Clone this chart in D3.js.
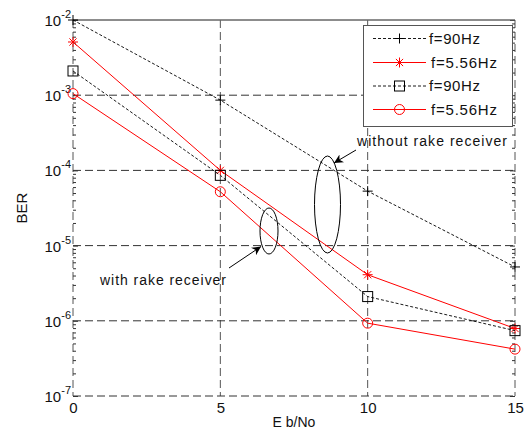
<!DOCTYPE html>
<html><head><meta charset="utf-8">
<script src="https://cdn.jsdelivr.net/npm/d3@7"></script>
<style>body{margin:0;background:#fff}svg{display:block}text{font-family:"Liberation Sans",Arial,sans-serif}</style>
</head><body>
<svg id="c" width="527" height="441"></svg>
<script>
const ebno = [0, 5, 10, 15];
const woRake90 = [1e-2, 8.6e-4, 5.3e-5, 5.2e-6];
const woRake556 = [5.1e-3, 1.0e-4, 4.1e-6, 7.9e-7];
const wRake90 = [2.1e-3, 8.6e-5, 2.1e-6, 7.4e-7];
const wRake556 = [1.05e-3, 5.2e-5, 9.3e-7, 4.2e-7];
const xTicks = [0, 5, 10, 15];
const yExps = [-7, -6, -5, -4, -3, -2];
const legendLabels = ["f=90Hz", "f=5.56Hz", "f=90Hz", "f=5.56Hz"];

const svg = d3.select("#c");
const L = 73, R = 515, T = 20, B = 396;
const x = d3.scaleLinear().domain([0, 15]).range([L, R]);
const y = d3.scaleLog().domain([1e-7, 1e-2]).range([B, T]);

// grid
const grid = svg.append("g");
xTicks.forEach(v => grid.append("line").attr("x1", x(v)).attr("x2", x(v)).attr("y1", T).attr("y2", B)
  .attr("stroke", "#555").attr("stroke-dasharray", "8,4"));
yExps.forEach(e => grid.append("line").attr("x1", L).attr("x2", R).attr("y1", y(Math.pow(10, e))).attr("y2", y(Math.pow(10, e)))
  .attr("stroke", e === -2 ? "#666" : "#333").attr("stroke-dasharray", e === -2 ? null : "8,4"));

// minor ticks
const minor = [];
for (let e = -7; e < -2; e++) for (let m = 2; m <= 9; m++) minor.push(m * Math.pow(10, e));
[[L, 1], [R, -1]].forEach(([px, dir]) => {
  const g = svg.append("g").attr("transform", `translate(${px},0)`);
  const ax = (dir === 1 ? d3.axisLeft(y) : d3.axisRight(y)).tickValues(minor).tickSize(-3).tickFormat("");
  g.call(ax);
  g.select(".domain").remove();
  g.selectAll("line").attr("stroke", "#333");
  const g2 = svg.append("g").attr("transform", `translate(${px},0)`);
  g2.call((dir === 1 ? d3.axisLeft(y) : d3.axisRight(y)).tickValues(yExps.map(e => Math.pow(10, e))).tickSize(-5).tickFormat(""));
  g2.select(".domain").remove();
  g2.selectAll("line").attr("stroke", "#333");
});

// y axis labels
const yAx = svg.append("g").attr("transform", `translate(${L},0)`)
  .call(d3.axisLeft(y).tickValues(yExps.map(e => Math.pow(10, e))).tickSize(0).tickPadding(2).tickFormat(""));
yAx.select(".domain").remove();
yAx.selectAll(".tick text").each(function (d) {
  const t = d3.select(this).attr("x", -2).attr("font-size", 15).attr("fill", "#111").attr("dy", "0.36em").attr("text-anchor", "end");
  t.append("tspan").text("10");
  t.append("tspan").attr("dy", -8).attr("font-size", 11).text(String(Math.round(Math.log10(d))));
});

// x axis labels
const xAx = svg.append("g").attr("transform", `translate(0,${B})`)
  .call(d3.axisBottom(x).tickValues(xTicks).tickSize(0).tickPadding(6).tickFormat(d3.format("d")));
xAx.select(".domain").remove();
xAx.selectAll(".tick text").attr("font-size", 15).attr("fill", "#111").attr("dy", "0.71em");

// top frame
svg.append("line").attr("x1", L).attr("x2", R).attr("y1", T).attr("y2", T).attr("stroke", "#666");

// axis titles
svg.append("text").attr("x", 294).attr("y", 427).attr("text-anchor", "middle").attr("font-size", 14).attr("fill", "#111").text("E b/No");
svg.append("text").attr("transform", "translate(27,208) rotate(-90)").attr("text-anchor", "middle").attr("font-size", 15).attr("fill", "#111").text("BER");

// series
const series = [
  {vals: woRake90, color: "#000", dash: "3,2", marker: "plus"},
  {vals: woRake556, color: "#f00", dash: null, marker: "star"},
  {vals: wRake90, color: "#000", dash: "3,2", marker: "square"},
  {vals: wRake556, color: "#f00", dash: null, marker: "circle"}
];
const line = d3.line().x(d => x(d[0])).y(d => y(d[1]));
function drawMarker(g, type, cx, cy, color) {
  const s = 5;
  if (type === "plus") {
    g.append("path").attr("d", `M${cx - s},${cy}H${cx + s}M${cx},${cy - s}V${cy + s}`).attr("stroke", color).attr("fill", "none");
  } else if (type === "star") {
    const d = 3.6;
    g.append("path").attr("d", `M${cx - s},${cy}H${cx + s}M${cx},${cy - s}V${cy + s}M${cx - d},${cy - d}L${cx + d},${cy + d}M${cx - d},${cy + d}L${cx + d},${cy - d}`)
      .attr("stroke", color).attr("fill", "none");
  } else if (type === "square") {
    g.append("rect").attr("x", cx - s).attr("y", cy - s).attr("width", 2 * s).attr("height", 2 * s).attr("stroke", color).attr("fill", "none");
  } else {
    g.append("circle").attr("cx", cx).attr("cy", cy).attr("r", s).attr("stroke", color).attr("fill", "none");
  }
}
series.forEach(s => {
  const pts = ebno.map((v, i) => [v, s.vals[i]]);
  svg.append("path").datum(pts).attr("d", line).attr("fill", "none").attr("stroke", s.color)
    .attr("stroke-width", s.dash ? 0.9 : 1).attr("stroke-dasharray", s.dash);
  const g = svg.append("g");
  pts.forEach(p => drawMarker(g, s.marker, x(p[0]), y(p[1]), s.color));
});

// legend
const lg = svg.append("g");
lg.append("rect").attr("x", 363.5).attr("y", 25.5).attr("width", 149).attr("height", 101).attr("fill", "#fff").attr("stroke", "#555");
const ly = [38.5, 62.5, 86, 109.5];
series.forEach((s, i) => {
  lg.append("line").attr("x1", 373).attr("x2", 426).attr("y1", ly[i]).attr("y2", ly[i]).attr("stroke", s.color)
    .attr("stroke-dasharray", s.dash).attr("stroke-width", s.dash ? 0.9 : 1);
  drawMarker(lg, s.marker, 399.5, ly[i], s.color);
  lg.append("text").attr("x", s.color === "#000" ? 429 : 431).attr("y", ly[i]).attr("dy", "0.36em")
    .attr("font-size", 15).attr("fill", "#111")
    .attr("textLength", s.color === "#000" ? 51 : 66).attr("lengthAdjust", "spacing").text(legendLabels[i]);
});

// annotations
svg.append("defs").append("marker").attr("id", "ah").attr("viewBox", "0 0 10 10").attr("refX", 10).attr("refY", 5)
  .attr("markerWidth", 9).attr("markerHeight", 9).attr("orient", "auto-start-reverse").attr("markerUnits", "userSpaceOnUse")
  .append("path").attr("d", "M0,0L10,5L0,10L3,5Z").attr("fill", "#000");
svg.append("ellipse").attr("cx", 269).attr("cy", 231).attr("rx", 9).attr("ry", 23).attr("fill", "none").attr("stroke", "#000");
svg.append("ellipse").attr("cx", 327.5).attr("cy", 204.5).attr("rx", 13).attr("ry", 48.5).attr("fill", "none").attr("stroke", "#000");
svg.append("line").attr("x1", 229).attr("y1", 268).attr("x2", 261).attr("y2", 246.5).attr("stroke", "#000").attr("marker-end", "url(#ah)");
svg.append("line").attr("x1", 356).attr("y1", 150).attr("x2", 334).attr("y2", 163).attr("stroke", "#000").attr("marker-end", "url(#ah)");
svg.append("text").attr("x", 357).attr("y", 146).attr("font-size", 14).attr("fill", "#111")
  .attr("textLength", 150).attr("lengthAdjust", "spacing").text("without rake receiver");
svg.append("text").attr("x", 100).attr("y", 285).attr("font-size", 14).attr("fill", "#111")
  .attr("textLength", 126).attr("lengthAdjust", "spacing").text("with rake receiver");
</script>
</body></html>
